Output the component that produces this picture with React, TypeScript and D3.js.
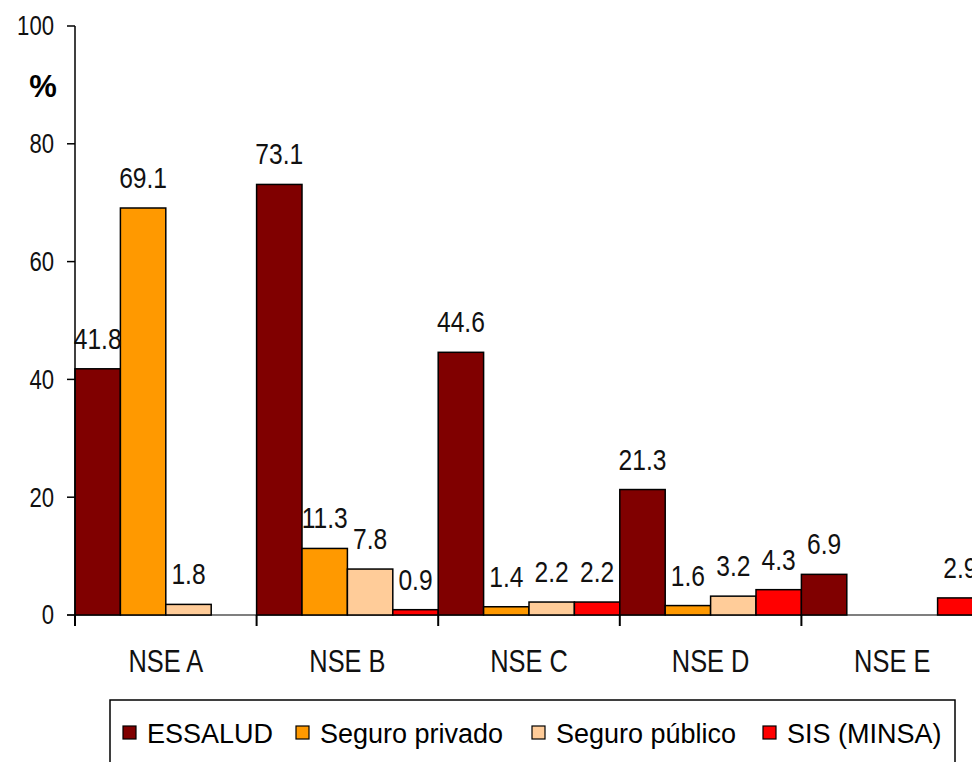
import React, { useEffect, useRef } from "react";
import * as d3 from "d3";

const categories = ["NSE A", "NSE B", "NSE C", "NSE D", "NSE E"];
const seriesNames = ["ESSALUD", "Seguro privado", "Seguro público", "SIS (MINSA)"];
const essalud = [41.8, 73.1, 44.6, 21.3, 6.9];
const seguroPrivado = [69.1, 11.3, 1.4, 1.6, null];
const seguroPublico = [1.8, 7.8, 2.2, 3.2, null];
const sisMinsa = [null, 0.9, 2.2, 4.3, 2.9];
const yTicks = [0, 20, 40, 60, 80, 100];
const colors = ["#800000", "#FF9900", "#FFCC99", "#FF0000"];

const App = () => {
    const svgRef = useRef<SVGSVGElement>(null);

    useEffect(() => {
        const width = 972, height = 762;
        const sans = "'Liberation Sans', Arial, sans-serif";
        const squeeze = 0.82; // narrow look of the original font

        const svg = d3.select(svgRef.current)
            .attr("width", width)
            .attr("height", height);
        svg.selectAll("*").remove();

        const series = [essalud, seguroPrivado, seguroPublico, sisMinsa];

        const x = d3.scaleBand().domain(categories).range([75, 983]).padding(0);
        const xInner = d3.scaleBand().domain(seriesNames).range([0, x.bandwidth()]).padding(0);
        const y = d3.scaleLinear().domain([0, 100]).range([615, 26]);

        // baseline
        svg.append("line")
            .attr("x1", 67).attr("x2", 983)
            .attr("y1", y(0)).attr("y2", y(0))
            .attr("stroke", "#555").attr("stroke-width", 1.5);

        const bars: { cat: string; name: string; value: number; i: number }[] = [];
        categories.forEach((cat, ci) => {
            series.forEach((s, si) => {
                const v = s[ci];
                if (v !== null && v !== undefined) bars.push({ cat, name: seriesNames[si], value: v, i: si });
            });
        });

        svg.selectAll(".bar")
            .data(bars)
            .enter()
            .append("rect")
            .attr("x", d => x(d.cat)! + xInner(d.name)!)
            .attr("y", d => y(d.value))
            .attr("width", xInner.bandwidth())
            .attr("height", d => y(0) - y(d.value))
            .attr("fill", d => colors[d.i])
            .attr("stroke", "#000")
            .attr("stroke-width", 1.5);

        svg.selectAll(".label")
            .data(bars)
            .enter()
            .append("text")
            .attr("transform", d =>
                `translate(${x(d.cat)! + xInner(d.name)! + xInner.bandwidth() / 2}, ${y(d.value) - 20}) scale(${squeeze}, 1)`)
            .attr("text-anchor", "middle")
            .attr("font-family", sans)
            .attr("font-size", 30)
            .attr("fill", "#111")
            .text(d => d.value.toFixed(1));

        // y axis
        svg.append("line")
            .attr("x1", 75).attr("x2", 75)
            .attr("y1", y(100)).attr("y2", y(0))
            .attr("stroke", "#000").attr("stroke-width", 1.5);

        const yt = svg.selectAll(".ytick").data(yTicks).enter().append("g");
        yt.append("line")
            .attr("x1", 67).attr("x2", 75)
            .attr("y1", d => y(d)).attr("y2", d => y(d))
            .attr("stroke", "#000").attr("stroke-width", 1.5);
        yt.append("text")
            .attr("transform", d => `translate(54, ${y(d)}) scale(${squeeze}, 1)`)
            .attr("dy", "0.35em")
            .attr("text-anchor", "end")
            .attr("font-family", sans)
            .attr("font-size", 27)
            .attr("fill", "#111")
            .text(d => d);

        svg.append("text")
            .attr("x", 43).attr("y", 97)
            .attr("text-anchor", "middle")
            .attr("font-family", sans)
            .attr("font-weight", "bold")
            .attr("font-size", 31)
            .text("%");

        // category ticks and labels
        const bounds = categories.map(c => x(c)!).concat([x(categories[categories.length - 1])! + x.bandwidth()]);
        svg.selectAll(".xtick")
            .data(bounds)
            .enter()
            .append("line")
            .attr("x1", d => d).attr("x2", d => d)
            .attr("y1", y(0)).attr("y2", y(0) + 11)
            .attr("stroke", "#000").attr("stroke-width", 2);

        svg.selectAll(".xlabel")
            .data(categories)
            .enter()
            .append("text")
            .attr("transform", d => `translate(${x(d)! + x.bandwidth() / 2}, 672) scale(${squeeze}, 1)`)
            .attr("text-anchor", "middle")
            .attr("font-family", sans)
            .attr("font-size", 31)
            .attr("fill", "#111")
            .text(d => d);

        // legend
        svg.append("rect")
            .attr("x", 110).attr("y", 700)
            .attr("width", 845).attr("height", 100)
            .attr("fill", "#fff")
            .attr("stroke", "#000").attr("stroke-width", 1.5);

        const legendX = [123, 296, 532, 763];
        const lg = svg.selectAll(".legend").data(seriesNames).enter().append("g")
            .attr("transform", (d, i) => `translate(${legendX[i]}, 0)`);
        lg.append("rect")
            .attr("x", 0).attr("y", 726)
            .attr("width", 13).attr("height", 13)
            .attr("fill", (d, i) => colors[i])
            .attr("stroke", "#000").attr("stroke-width", 1.2);
        lg.append("text")
            .attr("x", 24).attr("y", 743)
            .attr("font-family", sans)
            .attr("font-size", 27)
            .text(d => d);
    }, []);

    return <svg ref={svgRef} style={{ position: "absolute", left: 0, top: 0 }}></svg>;
};

export default App;
